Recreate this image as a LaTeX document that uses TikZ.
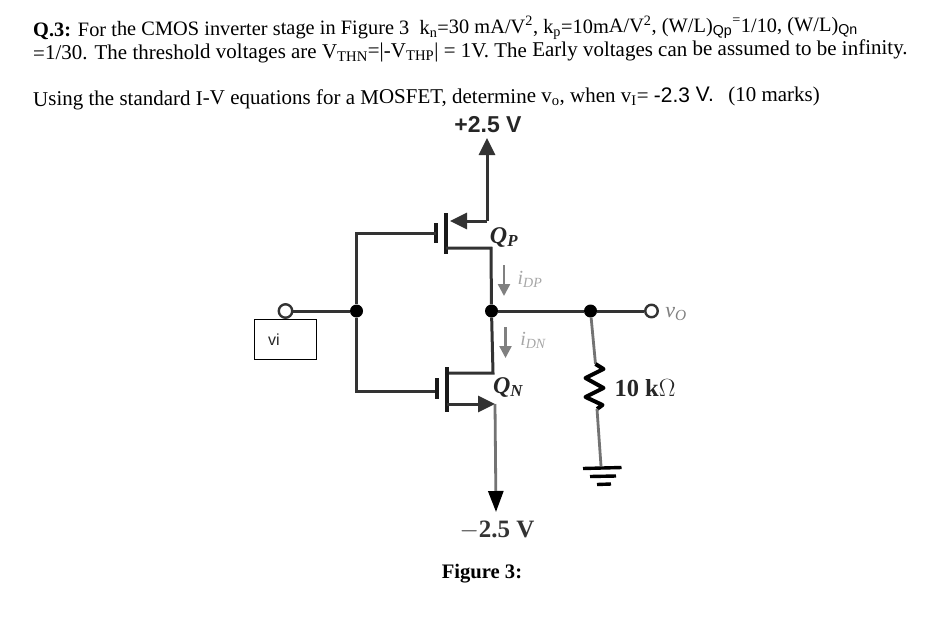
\documentclass[tikz,border=0pt]{standalone}
\usepackage{fontspec}
\setmainfont{Liberation Serif}
\setsansfont{Liberation Sans}
\usetikzlibrary{arrows.meta, shapes}
\tikzstyle{textline} = [inner sep=0, anchor=base west, rotate=0.35, font=\fontsize{21}{24}\selectfont]
\tikzstyle{labeltext} = [inner sep=0, font=\fontsize{24}{26}\selectfont\bfseries, text=black!85]
\tikzstyle{current} = [inner sep=0, font=\fontsize{20}{22}\selectfont\itshape, text=black!35]
\tikzstyle{inner} = [inner sep=0, minimum size=0]
\tikzstyle{junction} = [circle, fill=black, inner sep=0, minimum size=13pt]
\tikzstyle{terminal} = [circle, draw=black!80, line width=2.4pt, fill=white, inner sep=0, minimum size=12.5pt]
\tikzstyle{wire} = [line width=3pt, draw=black!80]
\tikzstyle{greywire} = [line width=2.8pt, draw=black!55]
\tikzstyle{plate} = [line width=4.4pt, draw=black!90]
\tikzstyle{bigarrow} = [-{Triangle[length=17pt,width=16pt]}]
\tikzstyle{smallarrow} = [-{Triangle[length=12pt,width=12pt]}, line width=2.4pt, draw=black!50, fill=black!50]
\begin{document}
\begin{tikzpicture}[x=1pt, y=1pt, node distance=40pt]
        \useasboundingbox (0,0) rectangle (942,-640);
        % question text
        \node [textline, font=\fontsize{20.4}{24}\selectfont] (lineOne) at (33,-36.5) {\textbf{Q.3:} For the CMOS inverter stage in Figure 3\ \ k\textsubscript{n}=30 mA/V\textsuperscript{2}, k\textsubscript{p}=10mA/V\textsuperscript{2}, (W/L)\textsubscript{\sffamily Qp}\textsuperscript{=}1/10, (W/L)\textsubscript{\sffamily Qn}};
        \node [textline] (lineTwo) at (33,-60) {=1/30. The threshold voltages are V\textsubscript{THN}=|-V\textsubscript{THP}| = 1V. The Early voltages can be assumed to be infinity.};
        \node [textline] (lineThree) at (33,-106) {Using the standard I-V equations for a MOSFET, determine v\textsubscript{o}, when v\textsubscript{I}= {\sffamily -2.3 V.}\ \ \hspace{4pt}(10 marks)};

        % top of the stage
        \node [labeltext, font=\fontsize{23}{26}\selectfont\bfseries] (supplyPos) at (488,-125) {\sffamily +2.5 V};
        \node [inner] (railPos) at (487,-138) {};
        \node [inner, below of=railPos, node distance=83pt] (sourceP) {};
        \node [inner, left of=sourceP, node distance=37pt] (tipP) {};
        \node [inner, left of=sourceP, node distance=41pt] (channelMidP) {};
        \node [inner, below of=channelMidP, node distance=-8pt] (channelTopP) {};
        \node [inner, below of=channelMidP, node distance=33pt] (channelBotP) {};
        \node [inner, below of=channelMidP, node distance=27pt] (drainP) {};
        \node [inner, right of=drainP, node distance=45pt] (cornerDrainP) {};
        \node [inner, left of=channelMidP, node distance=10pt] (plateP) {};
        \node [inner, below of=plateP, node distance=2pt] (plateTopP) {};
        \node [inner, below of=plateP, node distance=22pt] (plateBotP) {};
        \node [inner, below of=plateP, node distance=12pt] (gateP) {};

        % middle row
        \node [junction] (outDot) at (491.5,-311) {};
        \node [junction, left of=outDot, node distance=135pt] (inDot) {};
        \node [terminal, minimum size=13.5pt, left of=inDot, node distance=71pt] (inTerm) {};
        \node [junction, right of=outDot, node distance=99pt] (loadDot) {};
        \node [terminal, right of=outDot, node distance=160pt] (outTerm) {};
        \node [draw, rectangle, inner sep=0, minimum width=62pt, minimum height=40pt, line width=1pt, font=\sffamily\fontsize{16}{18}\selectfont, text=black!85] (viBox) at (285,-339.5) {\hspace*{-22pt}vi};

        % n device
        \node [inner] (plateN) at (437,-389) {};
        \node [inner, below of=plateN, node distance=-11pt] (plateTopN) {};
        \node [inner, below of=plateN, node distance=10pt] (plateBotN) {};
        \node [inner, below of=plateN, node distance=2pt] (gateN) {};
        \node [inner, right of=plateN, node distance=10pt] (channelMidN) {};
        \node [inner, below of=channelMidN, node distance=-22pt] (channelTopN) {};
        \node [inner, below of=channelMidN, node distance=23pt] (channelBotN) {};
        \node [inner, below of=channelMidN, node distance=-16pt] (drainN) {};
        \node [inner, below of=channelMidN, node distance=15pt] (sourceN) {};
        \node [inner, right of=drainN, node distance=46pt] (cornerDrainN) {};
        \node [inner, right of=sourceN, node distance=48pt] (tipN) {};
        \node [inner, below of=tipN, node distance=108pt, xshift=1pt] (railNeg) {};
        \node [labeltext, font=\fontsize{25}{28}\selectfont\bfseries, text=black!80] (supplyNeg) at (497,-530) {$-$2.5 V};
        \node [labeltext, font=\fontsize{20.6}{24}\selectfont\bfseries, text=black] (figCaption) at (482,-574) {Figure 3:};

        % load
        \node [inner, below of=loadDot, node distance=53pt, xshift=5pt] (resTop) {};
        \node [inner, below of=resTop, node distance=45pt, xshift=1.5pt] (resBot) {};
        \node [inner, below of=resBot, node distance=57pt, xshift=4pt] (gndTop) {};
        \node [labeltext, font=\fontsize{24.5}{26}\selectfont\bfseries] (loadLabel) at (645,-388) {10 k$\Omega$};
        \node [inner] (gndOneL) at (583,-468.5) {};
        \node [inner] (gndOneR) at (621.5,-467.5) {};
        \node [inner] (gndTwoL) at (590,-476.5) {};
        \node [inner] (gndTwoR) at (616,-476) {};
        \node [inner] (gndThreeL) at (597,-484.5) {};
        \node [inner] (gndThreeR) at (611,-484) {};

        % names and currents
        \node [labeltext, font=\fontsize{24}{26}\selectfont\bfseries\itshape] (nameP) at (504,-237) {Q\textsubscript{P}};
        \node [labeltext, font=\fontsize{24}{26}\selectfont\bfseries\itshape] (nameN) at (508,-387) {Q\textsubscript{N}};
        \node [inner] (iStartP) at (504,-265) {};
        \node [inner, below of=iStartP, node distance=31pt] (iEndP) {};
        \node [inner] (iStartN) at (505.5,-327) {};
        \node [inner, below of=iStartN, node distance=31pt] (iEndN) {};
        \node [current] (iLabelP) at (530,-279) {i\textsubscript{DP}};
        \node [current] (iLabelN) at (533,-340) {i\textsubscript{DN}};
        \node [current, font=\fontsize{22}{24}\selectfont\itshape, text=black!50] (outLabel) at (676,-314) {v\textsubscript{O}};

        % wires
        \draw [wire, bigarrow] (sourceP.center) -- (railPos.center);
        \draw [wire, bigarrow] (sourceP.center) -- (tipP.center);
        \draw [plate] (channelTopP.center) -- (channelBotP.center);
        \draw [plate] (plateTopP.center) -- (plateBotP.center);
        \draw [wire] (drainP.center) -- (cornerDrainP.center) -- (outDot);
        \draw [wire] (gateP.center) -| (inDot);
        \draw [wire] (inDot) |- (gateN.center);
        \draw [wire] (inTerm) -- (inDot);
        \draw [wire] (outDot) -- (loadDot);
        \draw [wire] (loadDot) -- (outTerm);
        \draw [wire] (outDot) -- (cornerDrainN.center) -- (drainN.center);
        \draw [plate] (channelTopN.center) -- (channelBotN.center);
        \draw [plate] (plateTopN.center) -- (plateBotN.center);
        \draw [wire, bigarrow] (sourceN.center) -- (tipN.center);
        \draw [greywire, -{Triangle[length=21pt,width=15pt,fill=black,color=black]}] (tipN.center) -- (railNeg.center);
        \draw [greywire] (loadDot) -- (resTop.center);
        \draw [line width=4pt, draw=black, line join=round] (resTop.center) -- ++(8,-5) -- ++(-18,-9) -- ++(18,-10) -- ++(-18,-9) -- ++(17,-8) -- (resBot.center);
        \draw [greywire] (resBot.center) -- (gndTop.center);
        \draw [line width=3.4pt] (gndOneL.center) -- (gndOneR.center);
        \draw [line width=3.4pt] (gndTwoL.center) -- (gndTwoR.center);
        \draw [line width=3.4pt] (gndThreeL.center) -- (gndThreeR.center);
        \draw [smallarrow] (iStartP.center) -- (iEndP.center);
        \draw [smallarrow] (iStartN.center) -- (iEndN.center);
    \end{tikzpicture}
\end{document}
